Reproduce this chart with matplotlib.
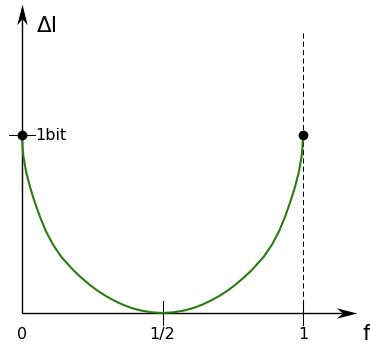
import numpy as np
import matplotlib
matplotlib.use("Agg")
import matplotlib.pyplot as plt
from matplotlib.path import Path

f_vals = [0, 0.002, 0.005, 0.015, 0.03, 0.045, 0.064, 0.085, 0.11, 0.14, 0.183, 0.21,
	0.242, 0.27, 0.30, 0.33, 0.36, 0.39, 0.42, 0.46, 0.5,
	0.54, 0.58, 0.61, 0.64, 0.67, 0.70, 0.73, 0.758, 0.79, 0.817, 0.86, 0.89, 0.915,
	0.936, 0.955, 0.97, 0.985, 0.995, 0.998, 1.0]
dI_vals = [1.0, 0.93, 0.88, 0.79, 0.70, 0.625, 0.54, 0.46, 0.385, 0.315, 0.24, 0.20,
	0.157, 0.124, 0.094, 0.068, 0.046, 0.028, 0.015, 0.004, 0.0,
	0.004, 0.015, 0.028, 0.046, 0.068, 0.094, 0.124, 0.157, 0.20, 0.24, 0.315, 0.385, 0.46,
	0.54, 0.625, 0.70, 0.79, 0.88, 0.93, 1.0]

end_f = [0, 1]
end_dI = [1, 1]

xtick_pos = [0, 0.5, 1]
xtick_labels = ["0", "1/2", "1"]
ytick_pos = [1]
ytick_labels = ["1bit"]

green = "#2b7a12"

def arrow_head(direction):
	# stealth style head, tip at the origin
	if direction == "right":
		verts = [(0, 0), (-1, 0.25), (-0.7, 0), (-1, -0.25), (0, 0)]
	else:
		verts = [(0, 0), (0.25, -1), (0, -0.7), (-0.25, -1), (0, 0)]
	codes = [Path.MOVETO, Path.LINETO, Path.LINETO, Path.LINETO, Path.CLOSEPOLY]
	return Path(verts, codes)

fig = plt.figure(figsize=(3.70, 3.45), dpi=100)
ax = fig.add_axes([0, 0, 1, 1])
ax.set_xlim(-22 / 281, 348 / 281)
ax.set_ylim(-32 / 178, 313 / 178)
ax.axis("off")

# axes with arrows
x_end = 1.192
y_end = 1.735
ax.plot([0, x_end - 0.05], [0, 0], color="black", lw=1.0, solid_capstyle="butt")
ax.plot([0, 0], [0, y_end - 0.08], color="black", lw=1.0, solid_capstyle="butt")
ax.plot([x_end], [0], marker=arrow_head("right"), markersize=30, color="black", mew=0)
ax.plot([0], [y_end], marker=arrow_head("up"), markersize=30, color="black", mew=0)

# dashed line at f = 1
ax.plot([1, 1], [0, 1.58], color="black", lw=0.75, linestyle=(0, (5, 3)))

# tick marks
for xt in xtick_pos[1:]:
	ax.plot([xt, xt], [-0.068, 0.068], color="black", lw=0.75)
for yt in ytick_pos:
	ax.plot([-0.045, 0.045], [yt, yt], color="black", lw=0.75)

for xt, lab in zip(xtick_pos, xtick_labels):
	ax.text(xt, -0.146, lab, ha="center", va="baseline", fontsize=11.5)
for yt, lab in zip(ytick_pos, ytick_labels):
	ax.text(0.046, yt - 0.03, lab, ha="left", va="baseline", fontsize=11.5)

ax.text(0.053, 1.579, "ΔI", ha="left", va="baseline", fontsize=15.5)
ax.text(1.2135, -0.152, "f", ha="left", va="baseline", fontsize=16)

ax.plot(f_vals, dI_vals, color=green, lw=1.5)
ax.plot(end_f, end_dI, "o", color="black", markersize=6)

fig.savefig("out.png", dpi=100)
